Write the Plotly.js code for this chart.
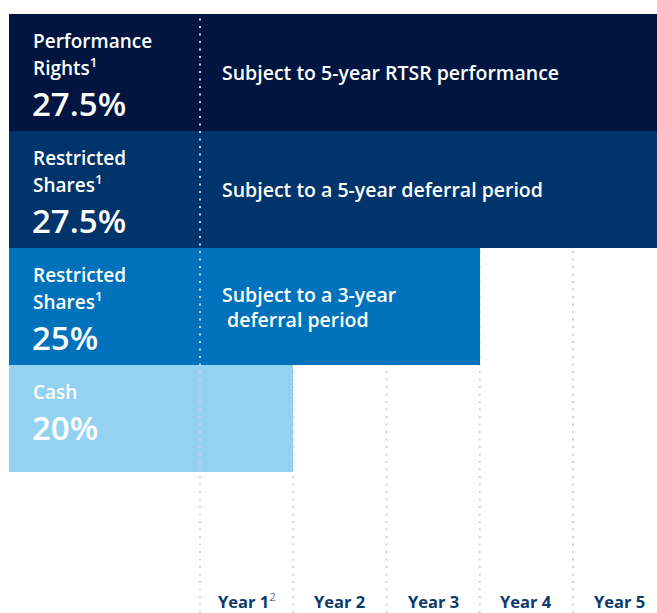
<!DOCTYPE html>
<html>
<head>
<meta charset="utf-8">
<script src="https://cdn.plot.ly/plotly-3.0.1.min.js"></script>
<style>html,body{margin:0;padding:0;background:#fff;}#chart{width:657px;height:613px;}</style>
</head>
<body>
<div id="chart"></div>
<script>
// ---- data ----
const components = ["Performance Rights", "Restricted Shares", "Restricted Shares", "Cash"];
const labelLine1 = ["Performance", "Restricted", "Restricted", "Cash"];
const labelLine2 = ["Rights<sup>1</sup>", "Shares<sup>1</sup>", "Shares<sup>1</sup>", ""];
const percentages = [27.5, 27.5, 25, 20];
const vestingEndYear = [5, 5, 3, 1];
const descriptions = ["Subject to 5-year RTSR performance", "Subject to a 5-year deferral period", "Subject to a 3-year<br>\u00a0deferral period", ""];
const yearLabels = ["Year 1<sup><span style='font-weight:normal;color:#5a7396'>2</span></sup>", "Year 2", "Year 3", "Year 4", "Year 5"];
const yearBoundaries = [0, 1, 2, 3, 4];

// ---- styling / layout constants ----
const colors = ["#001641", "#00346b", "#0071bb", "#94d2f2"];
const rowHeights = [117, 117, 117, 107];
const labelStart = -2.048;
const rowTops = [];
let acc = 0;
rowHeights.forEach(h => { rowTops.push(acc); acc += h; });
const rowCenters = rowTops.map((t, i) => t + rowHeights[i] / 2);
const FONT = "Open Sans, Lato, sans-serif";

const trace = {
  type: "bar",
  orientation: "h",
  y: rowCenters,
  x: vestingEndYear.map(v => v - labelStart),
  base: labelStart,
  width: rowHeights,
  marker: { color: colors, line: { width: 0 } },
  text: components,
  textposition: "none",
  hoverinfo: "text"
};

const dotColor = "#cdd0e5";
const shapes = yearBoundaries.map(xb => ({
  type: "line", xref: "x", yref: "paper",
  x0: xb, x1: xb, y0: 0, y1: 1,
  layer: xb === 0 ? "above" : "below",
  line: { color: dotColor, width: 2, dash: "2px,5.5px" }
}));

const annotations = [];
const white = "#ffffff";
components.forEach((c, i) => {
  const top = rowTops[i];
  annotations.push({
    xref: "x", yref: "y", x: labelStart, xshift: 22, xanchor: "left",
    y: top + 27, yanchor: "middle", showarrow: false,
    text: labelLine1[i], font: { family: FONT, size: 19, color: white, weight: 600 }
  });
  if (labelLine2[i]) {
    annotations.push({
      xref: "x", yref: "y", x: labelStart, xshift: 22, xanchor: "left",
      y: top + 53, yanchor: "middle", showarrow: false,
      text: labelLine2[i], font: { family: FONT, size: 19, color: white, weight: 600 }
    });
  }
  annotations.push({
    xref: "x", yref: "y", x: labelStart, xshift: 21, xanchor: "left",
    y: top + (labelLine2[i] ? 89 : 62), yanchor: "middle", showarrow: false,
    text: percentages[i] + "%", font: { family: FONT, size: 33, color: white, weight: 600 }
  });
  if (descriptions[i]) {
    annotations.push({
      xref: "x", yref: "y", x: 0, xshift: 20, xanchor: "left", align: "left",
      y: rowCenters[i], yanchor: "middle", showarrow: false,
      text: descriptions[i], font: { family: FONT, size: 19.5, color: white, weight: 600 }
    });
  }
});
yearLabels.forEach((lab, i) => {
  annotations.push({
    xref: "x", yref: "paper", x: yearBoundaries[i] + 0.5, xanchor: "center",
    y: 0, yanchor: "bottom", yshift: -2, showarrow: false,
    text: lab, font: { family: FONT, size: 16.5, color: "#0c3a6c", weight: 700 }
  });
});

const layout = {
  width: 657, height: 613,
  margin: { l: 9, r: 0, t: 14, b: 0, pad: 0 },
  paper_bgcolor: "#ffffff", plot_bgcolor: "#ffffff",
  showlegend: false,
  bargap: 0,
  xaxis: { range: [labelStart, 4.9], showgrid: false, zeroline: false, showticklabels: false, ticks: "", fixedrange: true },
  yaxis: { range: [599, 0], showgrid: false, zeroline: false, showticklabels: false, ticks: "", fixedrange: true },
  shapes: shapes,
  annotations: annotations
};

Plotly.newPlot("chart", [trace], layout, { displayModeBar: false, staticPlot: true });
</script>
</body>
</html>
